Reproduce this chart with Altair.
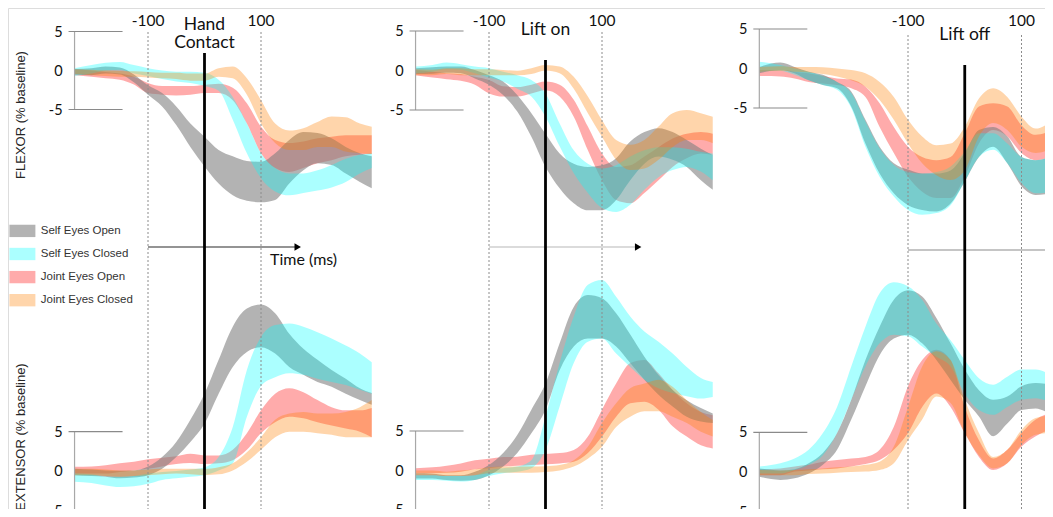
import altair as alt
import pandas as pd

# ---------------- data ----------------
SERIES = ["Self Eyes Open", "Self Eyes Closed", "Joint Eyes Open", "Joint Eyes Closed"]
SERIES_FILL = ["rgba(128,128,128,0.6)", "rgba(0,255,255,0.33)",
               "rgba(255,0,0,0.33)", "rgba(255,128,0,0.33)"]
DRAW_ORDER = ["Joint Eyes Open", "Self Eyes Open", "Self Eyes Closed", "Joint Eyes Closed"]

EVENTS = ["Hand\nContact", "Lift on", "Lift off"]
EVENT_TIME = [0]
MUSCLES = ["FLEXOR (% baseline)", "EXTENSOR (% baseline)"]
REF_TIMES = [-100, 100]
REF_LABELS = ["-100", "100"]
Y_TICKS = [5, 0, -5]
Y_TICK_LABELS = ["5", "0", "-5"]
TIME_LABEL = "Time (ms)"

# time grids (ms relative to event)
T_HC = [-230, -200, -175, -150, -125, -100, -75, -50, -25, 0, 25, 50, 75, 100, 125, 150, 175, 200, 225, 250, 275, 296]
T_LON = [-230, -200, -175, -150, -125, -100, -75, -50, -25, 0, 25, 50, 75, 100, 125, 150, 175, 200, 225, 250, 275, 296]
T_LOFF = [-362, -325, -300, -275, -250, -225, -200, -175, -150, -125, -100, -75, -50, -25, 0, 25, 50, 75, 100, 125, 150, 160]

# ---- Hand contact, flexor (upper / lower band edges, % baseline)
hc_flex_seo_hi = [0.2, 0.3, 0.5, 0.4, -0.5, -1.9, -2.9, -4.6, -6.8, -8.5, -10.2, -11.0, -11.6, -11.7, -10.6, -8.9, -7.9, -8.0, -8.7, -9.8, -10.6, -11.0]
hc_flex_seo_lo = [-0.5, -0.6, -0.4, -0.5, -1.5, -3.1, -4.6, -7.0, -9.8, -12.3, -14.5, -16.0, -16.7, -16.9, -16.6, -14.5, -12.8, -11.9, -12.1, -13.2, -14.3, -15.1]
hc_flex_sec_hi = [0.3, 0.7, 1.0, 1.1, 0.7, 0.3, 0.0, -0.15, -0.15, -0.3, -1.2, -3.4, -6.8, -10.6, -12.5, -13.2, -13.2, -12.8, -12.1, -11.3, -10.8, -10.6]
hc_flex_sec_lo = [-0.7, -0.4, 0.0, 0.1, -0.4, -0.7, -1.1, -1.4, -1.6, -2.0, -2.6, -6.3, -10.6, -13.8, -15.5, -16.0, -15.7, -15.4, -15.0, -14.3, -13.2, -12.5]
hc_flex_jeo_hi = [0.2, 0.0, -0.2, -0.4, -0.8, -1.6, -2.0, -2.0, -2.0, -1.85, -1.7, -2.2, -4.2, -7.2, -8.9, -9.3, -9.1, -8.7, -8.5, -8.3, -8.3, -8.3]
hc_flex_jeo_lo = [-0.6, -0.8, -1.0, -1.2, -1.8, -2.9, -3.1, -3.2, -3.1, -2.9, -2.9, -3.8, -6.8, -10.6, -12.5, -13.0, -12.5, -11.9, -11.5, -11.0, -10.8, -10.7]
hc_flex_jec_hi = [0.15, 0.1, 0.0, -0.05, -0.1, -0.2, -0.3, -0.3, -0.4, -0.4, 0.3, 0.5, -1.0, -3.8, -6.8, -7.7, -7.4, -6.6, -5.9, -6.0, -6.8, -7.2]
hc_flex_jec_lo = [-0.45, -0.6, -0.7, -0.8, -0.8, -0.9, -1.0, -1.1, -1.3, -1.3, -0.8, -1.0, -3.1, -6.8, -9.3, -10.2, -10.2, -9.8, -9.8, -10.4, -10.6, -10.7]

# ---- Hand contact, extensor
hc_ext_seo_hi = [0.3, 0.2, 0.1, 0.05, 0.1, 0.6, 1.8, 3.7, 6.5, 9.8, 14.1, 18.3, 20.6, 21.1, 20.0, 17.4, 15.5, 14.1, 12.8, 11.7, 10.5, 9.9]
hc_ext_seo_lo = [-0.5, -0.6, -0.7, -0.9, -0.8, -0.5, 0.3, 1.8, 3.7, 6.0, 9.8, 13.2, 15.1, 15.7, 14.9, 13.2, 12.2, 11.3, 10.7, 9.8, 9.0, 8.4]
hc_ext_sec_hi = [-0.3, -0.4, -0.7, -0.7, -0.6, -0.3, -0.1, 0.04, 0.2, 0.5, 1.8, 5.6, 12.8, 17.0, 18.5, 18.7, 18.3, 17.6, 16.8, 15.9, 14.9, 13.8]
hc_ext_sec_lo = [-1.35, -1.5, -1.8, -2.0, -1.9, -1.6, -1.1, -0.9, -0.7, -0.5, 0.1, 1.0, 6.9, 10.8, 11.9, 12.4, 12.2, 11.7, 11.3, 10.9, 10.3, 9.8]
hc_ext_jeo_hi = [0.55, 0.6, 0.75, 1.0, 1.2, 1.5, 1.7, 1.9, 2.2, 2.0, 2.0, 2.7, 4.8, 7.7, 9.8, 10.5, 10.0, 9.0, 8.1, 7.7, 7.7, 8.0]
hc_ext_jeo_lo = [-0.3, -0.3, -0.3, -0.1, 0.1, 0.3, 0.6, 0.9, 1.05, 0.9, 1.0, 1.4, 2.7, 4.8, 6.2, 6.9, 6.7, 6.2, 5.8, 5.4, 5.0, 4.3]
hc_ext_jec_hi = [0.3, 0.3, 0.2, 0.1, 0.1, 0.2, 0.3, 0.3, 0.3, 0.3, 0.5, 1.0, 2.4, 4.3, 6.5, 7.3, 7.5, 7.3, 7.3, 7.5, 8.1, 9.0]
hc_ext_jec_lo = [-0.5, -0.5, -0.6, -0.7, -0.6, -0.5, -0.4, -0.3, -0.4, -0.5, -0.4, 0.1, 1.2, 2.7, 4.3, 5.0, 5.0, 4.8, 4.6, 4.3, 4.3, 4.3]

# ---- Lift on, flexor
lon_flex_seo_hi = [0.3, 0.4, 0.5, 0.5, 0.05, -0.6, -1.4, -3.1, -5.4, -8.0, -10.5, -11.8, -12.2, -12.0, -11.1, -9.0, -7.8, -7.3, -7.8, -8.8, -9.9, -10.7]
lon_flex_seo_lo = [-0.45, -0.4, -0.3, -0.35, -1.0, -1.8, -3.1, -5.2, -8.4, -12.2, -14.9, -16.8, -17.7, -17.7, -16.4, -13.9, -11.8, -10.9, -11.3, -12.2, -13.9, -15.1]
lon_flex_sec_hi = [0.5, 0.7, 1.0, 0.8, 0.5, 0.3, -0.15, -0.6, -1.2, -2.9, -6.7, -10.1, -11.8, -12.4, -12.0, -10.9, -10.1, -9.7, -9.7, -9.9, -10.3, -10.5]
lon_flex_sec_lo = [-0.35, -0.15, 0.15, 0.1, -0.35, -0.9, -1.4, -2.3, -3.3, -5.85, -9.6, -13.0, -15.5, -17.4, -17.9, -17.0, -15.1, -13.5, -12.6, -12.2, -12.8, -13.9]
lon_flex_jeo_hi = [0.05, -0.15, -0.35, -0.45, -0.8, -1.2, -2.0, -2.1, -1.8, -1.4, -1.8, -3.7, -7.1, -10.5, -12.2, -12.0, -10.9, -9.7, -8.6, -8.0, -7.8, -8.0]
lon_flex_jeo_lo = [-0.6, -0.9, -1.1, -1.3, -1.8, -2.9, -3.3, -3.3, -2.9, -2.5, -3.3, -5.85, -10.1, -13.9, -16.4, -16.8, -15.5, -13.9, -12.2, -11.1, -10.5, -10.7]
lon_flex_jec_hi = [0.15, 0.1, 0.3, 0.3, 0.15, 0.15, 0.05, -0.02, 0.3, 0.7, 0.5, -0.8, -3.3, -6.3, -8.8, -9.4, -8.8, -7.1, -5.4, -5.0, -5.4, -5.85]
lon_flex_jec_lo = [-0.6, -0.6, -0.45, -0.6, -0.6, -0.6, -0.6, -0.6, -0.45, 0.0, -0.35, -2.3, -5.4, -8.4, -11.3, -12.6, -12.4, -11.3, -9.7, -8.8, -8.8, -9.2]

# ---- Lift on, extensor
lon_ext_seo_hi = [-0.35, -0.4, -0.6, -0.6, -0.15, 0.7, 2.2, 4.5, 7.7, 11.0, 16.1, 20.7, 22.2, 21.8, 19.9, 17.2, 14.4, 12.1, 10.2, 8.9, 7.9, 7.2]
lon_ext_seo_lo = [-1.0, -1.0, -1.2, -1.3, -1.2, -0.6, 0.5, 2.2, 4.7, 7.7, 12.7, 15.7, 16.7, 16.7, 15.7, 13.6, 11.5, 9.6, 8.1, 6.8, 6.2, 6.0]
lon_ext_sec_hi = [-0.6, -0.6, -0.7, -0.7, -0.6, 0.06, 0.3, 0.5, 1.3, 6.8, 13.6, 19.5, 23.5, 24.1, 22.0, 19.5, 17.6, 16.3, 14.8, 13.1, 11.7, 11.2]
lon_ext_sec_lo = [-1.2, -1.2, -1.3, -1.4, -1.2, -0.7, -0.35, -0.15, 0.3, 2.6, 8.1, 13.6, 16.3, 16.7, 14.8, 13.1, 11.5, 10.4, 9.8, 9.4, 9.1, 9.3]
lon_ext_jeo_hi = [0.3, 0.4, 0.6, 0.9, 1.3, 1.5, 1.7, 1.75, 2.0, 2.1, 2.2, 2.6, 4.3, 7.7, 11.0, 13.6, 14.0, 12.3, 10.2, 8.5, 7.4, 7.0]
lon_ext_jeo_lo = [-0.35, -0.35, -0.3, -0.15, 0.15, 0.3, 0.5, 0.6, 0.7, 0.8, 0.9, 1.1, 2.2, 4.3, 6.8, 8.5, 8.7, 7.7, 5.6, 4.3, 3.2, 2.8]
lon_ext_jec_hi = [0.0, 0.0, -0.15, 0.0, 0.15, 0.4, 0.5, 0.5, 0.5, 0.55, 0.7, 1.3, 3.0, 6.0, 8.5, 10.4, 11.0, 11.5, 10.6, 8.9, 7.4, 6.4]
lon_ext_jec_lo = [-0.6, -0.6, -0.7, -0.7, -0.6, -0.35, -0.3, -0.3, -0.3, -0.2, 0.0, 0.5, 1.5, 3.0, 5.5, 6.8, 7.5, 7.5, 6.8, 6.0, 4.9, 4.3]

# ---- Lift off, flexor
loff_flex_seo_hi = [0.2, 0.75, 0.2, -0.4, -0.8, -1.7, -2.9, -6.5, -9.9, -12.0, -12.8, -13.3, -13.3, -12.9, -10.7, -7.8, -7.4, -8.6, -11.2, -11.6, -11.2, -11.0]
loff_flex_seo_lo = [-0.6, -0.2, -0.6, -1.5, -2.1, -2.5, -4.8, -9.5, -13.3, -15.8, -17.3, -17.9, -18.1, -17.1, -14.3, -11.2, -9.9, -12.0, -14.9, -16.0, -15.8, -15.6]
loff_flex_sec_hi = [0.85, 0.45, 0.0, -0.4, -0.95, -1.7, -3.1, -6.7, -10.1, -12.2, -13.1, -13.3, -13.1, -12.4, -10.5, -8.2, -8.2, -9.5, -11.2, -11.6, -11.2, -11.0]
loff_flex_sec_lo = [-0.4, -0.3, -0.8, -1.5, -2.1, -2.7, -5.0, -9.9, -13.7, -16.2, -17.9, -18.5, -18.3, -17.3, -14.3, -11.2, -10.3, -12.0, -14.5, -15.8, -15.6, -15.4]
loff_flex_jeo_hi = [-0.2, -0.2, -0.4, -0.6, -0.95, -1.25, -1.4, -2.3, -4.4, -7.4, -9.9, -11.2, -11.6, -11.2, -8.2, -4.8, -4.4, -4.8, -7.2, -8.4, -8.0, -7.8]
loff_flex_jeo_lo = [-0.95, -1.0, -1.25, -1.7, -1.9, -2.1, -2.5, -3.6, -7.4, -10.7, -13.7, -15.6, -16.4, -16.4, -13.7, -9.5, -7.8, -8.6, -10.7, -11.6, -11.2, -11.0]
loff_flex_jec_hi = [0.2, 0.3, 0.2, 0.2, 0.15, 0.0, -0.2, -0.6, -1.7, -3.6, -6.5, -8.6, -9.7, -9.5, -7.4, -3.8, -2.5, -3.6, -6.1, -7.6, -6.9, -6.6]
loff_flex_jec_lo = [-0.4, -0.3, -0.4, -0.5, -0.7, -1.0, -1.5, -2.3, -4.0, -6.5, -9.5, -12.0, -13.5, -14.1, -12.9, -8.6, -6.9, -7.8, -9.9, -10.7, -10.3, -10.1]

# ---- Lift off, extensor
loff_ext_seo_hi = [0.45, 0.2, 0.35, 1.1, 2.4, 4.9, 9.1, 14.1, 18.3, 21.7, 22.9, 22.1, 19.4, 16.2, 12.9, 10.3, 9.1, 9.5, 10.8, 11.2, 11.0, 10.8]
loff_ext_seo_lo = [-0.6, -1.0, -0.8, -0.2, 0.9, 2.8, 6.6, 10.8, 14.7, 16.8, 17.3, 16.2, 14.1, 11.6, 9.1, 7.0, 4.5, 6.1, 7.8, 8.0, 7.4, 7.2]
loff_ext_sec_hi = [0.7, 1.1, 1.7, 2.8, 4.9, 8.2, 13.3, 18.3, 22.5, 23.9, 23.4, 21.7, 18.7, 16.6, 14.1, 11.8, 11.0, 12.0, 12.9, 12.9, 12.4, 12.3]
loff_ext_sec_lo = [-0.2, -0.2, 0.25, 0.9, 2.1, 4.9, 9.1, 13.3, 16.2, 17.3, 17.1, 15.8, 14.5, 13.3, 9.9, 7.8, 7.2, 8.2, 9.1, 9.3, 8.9, 8.8]
loff_ext_jeo_hi = [0.35, 0.45, 0.7, 0.9, 1.3, 1.5, 1.7, 1.9, 2.8, 5.7, 10.8, 14.1, 15.4, 14.1, 8.2, 4.0, 1.7, 2.8, 4.9, 6.6, 7.4, 7.5]
loff_ext_jeo_lo = [-0.4, -0.4, 0.05, 0.2, 0.35, 0.45, 0.7, 1.0, 1.5, 2.8, 4.9, 8.2, 9.9, 8.2, 4.9, 1.9, 0.25, 1.1, 3.2, 4.5, 5.3, 5.4]
loff_ext_jec_hi = [0.25, 0.2, 0.25, 0.35, 0.45, 0.6, 0.7, 0.9, 1.3, 3.2, 8.2, 13.3, 15.2, 14.1, 9.1, 4.9, 1.9, 2.8, 5.3, 6.8, 7.1, 7.1]
loff_ext_jec_lo = [-0.4, -0.4, -0.4, -0.25, -0.2, -0.1, 0.0, 0.05, 0.25, 1.1, 4.0, 6.6, 9.5, 8.7, 4.9, 2.1, 0.45, 1.1, 3.4, 4.7, 4.9, 4.9]

COLUMNS = [
    (T_HC, {
        "flex": {"Self Eyes Open": (hc_flex_seo_hi, hc_flex_seo_lo), "Self Eyes Closed": (hc_flex_sec_hi, hc_flex_sec_lo),
                 "Joint Eyes Open": (hc_flex_jeo_hi, hc_flex_jeo_lo), "Joint Eyes Closed": (hc_flex_jec_hi, hc_flex_jec_lo)},
        "ext": {"Self Eyes Open": (hc_ext_seo_hi, hc_ext_seo_lo), "Self Eyes Closed": (hc_ext_sec_hi, hc_ext_sec_lo),
                "Joint Eyes Open": (hc_ext_jeo_hi, hc_ext_jeo_lo), "Joint Eyes Closed": (hc_ext_jec_hi, hc_ext_jec_lo)}}),
    (T_LON, {
        "flex": {"Self Eyes Open": (lon_flex_seo_hi, lon_flex_seo_lo), "Self Eyes Closed": (lon_flex_sec_hi, lon_flex_sec_lo),
                 "Joint Eyes Open": (lon_flex_jeo_hi, lon_flex_jeo_lo), "Joint Eyes Closed": (lon_flex_jec_hi, lon_flex_jec_lo)},
        "ext": {"Self Eyes Open": (lon_ext_seo_hi, lon_ext_seo_lo), "Self Eyes Closed": (lon_ext_sec_hi, lon_ext_sec_lo),
                "Joint Eyes Open": (lon_ext_jeo_hi, lon_ext_jeo_lo), "Joint Eyes Closed": (lon_ext_jec_hi, lon_ext_jec_lo)}}),
    (T_LOFF, {
        "flex": {"Self Eyes Open": (loff_flex_seo_hi, loff_flex_seo_lo), "Self Eyes Closed": (loff_flex_sec_hi, loff_flex_sec_lo),
                 "Joint Eyes Open": (loff_flex_jeo_hi, loff_flex_jeo_lo), "Joint Eyes Closed": (loff_flex_jec_hi, loff_flex_jec_lo)},
        "ext": {"Self Eyes Open": (loff_ext_seo_hi, loff_ext_seo_lo), "Self Eyes Closed": (loff_ext_sec_hi, loff_ext_sec_lo),
                "Joint Eyes Open": (loff_ext_jeo_hi, loff_ext_jeo_lo), "Joint Eyes Closed": (loff_ext_jec_hi, loff_ext_jec_lo)}}),
]

# ---------------- layout (page pixels) ----------------
M = 8
W, H = 1037, 501
PX_MS = [0.565, 0.565, 0.5675]
EVENT_PX = [204.5, 545.5, 964.75]
ZERO_PX = [(70.5, 471.2), (70.5, 470.5), (68.5, 472.0)]
PX_UNIT = [(7.8, 7.9), (7.9, 7.9), (7.9, 7.94)]
DOT_TOP = [32, 32, 35]
BLACK_TOP = [53, 60, 65]
EVENT_BASE = [30, 35, 40]
ARROW_Y = [247, 247, 250]
ARROW_END = [162, 160, 320]
ARROW_HEAD = [165, 164, None]
ARROW_COLOR = ["#2b2b2b", "#b8b8b8", "#8c8c8c"]

FONT = "Lato"
SANS = "Liberation Sans"


def xscale(c):
    a = -(EVENT_PX[c] - M) / PX_MS[c]
    return alt.Scale(domain=[a, a + W / PX_MS[c]], nice=False, zero=False)


def yscale(c, r):
    top = (ZERO_PX[c][r] - M) / PX_UNIT[c][r]
    return alt.Scale(domain=[top - H / PX_UNIT[c][r], top], nice=False, zero=False)


color_scale = alt.Scale(domain=SERIES, range=SERIES_FILL)
LEG = alt.Legend(orient="none", legendX=5.9, legendY=214.4, title=None, direction="vertical",
                 symbolType="M-1.6,-0.76H1.6V0.76H-1.6Z", symbolSize=264, symbolStrokeWidth=0,
                 symbolOpacity=1, labelFont=SANS, labelFontSize=11.5, labelColor="#333333",
                 labelOffset=9.85, rowPadding=8.1, padding=0)


def muscle_panel(c, r, times, bands):
    xs, ys = xscale(c), yscale(c, r)
    layers = []
    for s in DRAW_ORDER:
        hi, lo = bands[s]
        df = pd.DataFrame({"t": times, "hi": hi, "lo": lo, "series": s})
        layers.append(
            alt.Chart(df).mark_area(interpolate="monotone", opacity=1, strokeWidth=0).encode(
                x=alt.X("t:Q", scale=xs, axis=None),
                y=alt.Y("hi:Q", scale=ys, axis=None, stack=None),
                y2="lo:Q",
                color=alt.Color("series:N", scale=color_scale, legend=LEG),
            )
        )
    t0 = times[0]
    ticks = pd.DataFrame({"v": Y_TICKS, "label": Y_TICK_LABELS})
    span = pd.DataFrame({"top": [max(Y_TICKS)], "bot": [min(Y_TICKS)]})
    layers.append(
        alt.Chart(span).mark_rule(color="#a8a8a8", strokeWidth=1.2).encode(
            x=alt.XDatum(t0, scale=xs, axis=None),
            y=alt.Y("top:Q", scale=ys, axis=None), y2="bot:Q")
    )
    layers.append(
        alt.Chart(ticks).transform_filter(alt.datum.v != 0).mark_rule(
            color="#8a8a8a", strokeWidth=1.2, xOffset=-6, x2Offset=48).encode(
            x=alt.XDatum(t0, scale=xs, axis=None), x2=alt.X2Datum(t0),
            y=alt.Y("v:Q", scale=ys, axis=None))
    )
    layers.append(
        alt.Chart(ticks).mark_text(font=FONT, fontSize=14.5, align="right", baseline="alphabetic",
                                   dx=-12, dy=5, color="#111111").encode(
            x=alt.XDatum(t0, scale=xs, axis=None),
            y=alt.Y("v:Q", scale=ys, axis=None), text="label:N")
    )
    return alt.layer(*layers)


def column_deco(c):
    xs = xscale(c)
    ref = pd.DataFrame({"t": REF_TIMES, "label": REF_LABELS})
    ev = pd.DataFrame({"t": EVENT_TIME, "label": [EVENTS[c]]})
    arrow = pd.DataFrame({"t0": [REF_TIMES[0]], "t1": [ARROW_END[c]]})
    layers = [
        alt.Chart(ref).mark_rule(strokeDash=[2, 2], color="#8c8c8c", strokeWidth=1).encode(
            x=alt.X("t:Q", scale=xs, axis=None), y=alt.value(DOT_TOP[c] - M), y2=alt.value(H)),
        alt.Chart(ref).mark_text(font=FONT, fontSize=15.5, baseline="alphabetic", color="#111111").encode(
            x=alt.X("t:Q", scale=xs, axis=None), y=alt.value(26 - M), text="label:N"),
        alt.Chart(arrow).mark_rule(color=ARROW_COLOR[c], strokeWidth=1.2).encode(
            x=alt.X("t0:Q", scale=xs, axis=None), x2="t1:Q", y=alt.value(ARROW_Y[c] - M)),
        alt.Chart(ev).mark_rule(color="black", strokeWidth=2.8).encode(
            x=alt.X("t:Q", scale=xs, axis=None), y=alt.value(BLACK_TOP[c] - M), y2=alt.value(H)),
        alt.Chart(ev).mark_text(font=FONT, fontSize=17.5, lineBreak="\n", lineHeight=18,
                                baseline="alphabetic", color="#111111").encode(
            x=alt.X("t:Q", scale=xs, axis=None), y=alt.value(EVENT_BASE[c] - M), text="label:N"),
    ]
    if ARROW_HEAD[c] is not None:
        head = pd.DataFrame({"t": [ARROW_HEAD[c]]})
        layers.append(
            alt.Chart(head).mark_point(shape="triangle-right", filled=True, color="black",
                                       opacity=1, size=55).encode(
                x=alt.X("t:Q", scale=xs, axis=None), y=alt.value(ARROW_Y[c] - M)))
    if c == 0:
        tl = pd.DataFrame({"t": [116], "label": [TIME_LABEL]})
        layers.append(
            alt.Chart(tl).mark_text(font=FONT, fontSize=16, align="left", baseline="alphabetic",
                                    color="#111111").encode(
                x=alt.X("t:Q", scale=xs, axis=None), y=alt.value(265 - M), text="label:N"))
    return alt.layer(*layers)


all_layers = []
for c, (times, bands) in enumerate(COLUMNS):
    all_layers.append(muscle_panel(c, 0, times, bands["flex"]))
    all_layers.append(muscle_panel(c, 1, times, bands["ext"]))
    all_layers.append(column_deco(c))

titles = pd.DataFrame({"label": MUSCLES, "py": [115 - M, 437 - M]})
all_layers.append(
    alt.Chart(titles).mark_text(font=SANS, fontSize=13, angle=270, align="center",
                                baseline="middle", color="#262626").encode(
        x=alt.value(21 - M), y=alt.Y("py:Q", scale=alt.Scale(domain=[0, H], range=[0, H], nice=False, zero=False), axis=None),
        text="label:N")
)

chart = (
    alt.layer(*all_layers)
    .resolve_scale(x="independent", y="independent")
    .properties(width=W, height=H, padding=0, autosize=alt.AutoSizeParams(type="none"))
    .configure_view(stroke=None)
    .configure(background="white")
)

chart.save("out.html", embed_options={"renderer": "svg", "actions": False})
